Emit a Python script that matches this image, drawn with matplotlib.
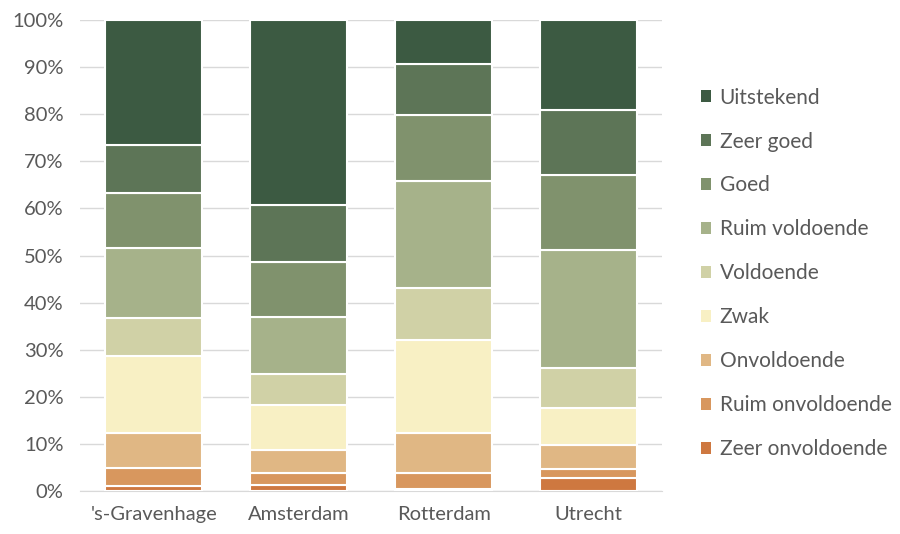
import matplotlib.pyplot as plt
from matplotlib.patches import Patch
from matplotlib.ticker import PercentFormatter

plt.rcParams["font.family"] = ["Lato", "DejaVu Sans"]

cities = ["'s-Gravenhage", "Amsterdam", "Rotterdam", "Utrecht"]
categories = ["Zeer onvoldoende", "Ruim onvoldoende", "Onvoldoende", "Zwak",
              "Voldoende", "Ruim voldoende", "Goed", "Zeer goed", "Uitstekend"]
# share per category (%), bottom to top, one list per category
zeer_onvoldoende = [1.1, 1.3, 0.4, 2.8]
ruim_onvoldoende = [3.8, 2.5, 3.4, 1.9]
onvoldoende = [7.5, 4.9, 8.6, 5.0]
zwak = [16.3, 9.6, 19.7, 7.9]
voldoende = [8.0, 6.5, 11.1, 8.5]
ruim_voldoende = [15.0, 12.1, 22.7, 25.1]
goed = [11.6, 11.7, 13.9, 15.9]
zeer_goed = [10.2, 12.1, 10.8, 13.9]
uitstekend = [26.5, 39.3, 9.4, 19.0]

series = [zeer_onvoldoende, ruim_onvoldoende, onvoldoende, zwak, voldoende,
          ruim_voldoende, goed, zeer_goed, uitstekend]
colors = ["#CE7840", "#D8975E", "#E0B784", "#F8F0C4", "#D0D1A6",
          "#A6B28A", "#80926D", "#5D7557", "#3C5A42"]

fig = plt.figure(figsize=(9, 5.34), dpi=100)
ax = fig.add_axes([0.089, 0.0805, 0.647, 0.882])

x = range(len(cities))
bottom = [0.0] * len(cities)
for vals, col in zip(series, colors):
    ax.bar(x, vals, bottom=bottom, width=0.67, color=col,
           edgecolor="white", linewidth=1.5, zorder=3)
    bottom = [b + v for b, v in zip(bottom, vals)]

ax.set_ylim(0, 100)
ax.set_xlim(-0.51, 3.51)
ax.set_yticks(range(0, 101, 10))
ax.yaxis.set_major_formatter(PercentFormatter(decimals=0))
ax.set_xticks(list(x))
ax.set_xticklabels(cities)
ax.grid(axis="y", color="#D9D9D9", linewidth=1, zorder=0)
for s in ["top", "right", "left"]:
    ax.spines[s].set_visible(False)
ax.spines["bottom"].set_color("#D9D9D9")
ax.tick_params(length=0, labelsize=14.5, colors="#595959")
ax.tick_params(axis="x", pad=11)
ax.tick_params(axis="y", pad=12)

handles = [Patch(facecolor=c, label=l) for c, l in zip(colors, categories)][::-1]
fig.legend(handles=handles, loc="center left", bbox_to_anchor=(0.758, 0.488),
           frameon=False, fontsize=15, labelcolor="#595959",
           handlelength=0.5, handleheight=0.5, handletextpad=0.4,
           labelspacing=1.15)

fig.savefig("out.png", dpi=100)
